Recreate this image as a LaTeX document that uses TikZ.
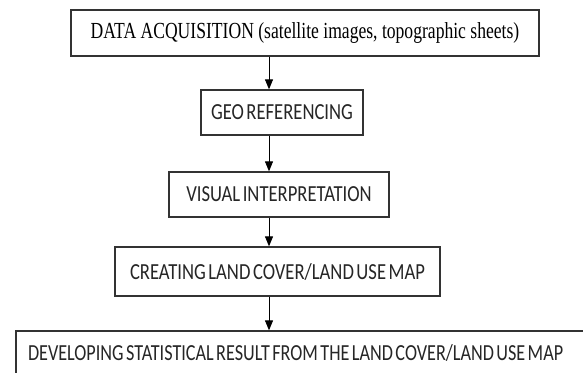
\documentclass[tikz,border=0pt]{standalone}
\usepackage{fontspec}
\setmainfont{Liberation Serif}
\newfontfamily\calib[WordSpace={0.6,0,0}]{Carlito}
\usetikzlibrary{arrows.meta}
\tikzset{
  box/.style={draw=black!80, line width=1.3pt, rectangle, inner sep=0pt, fill=white},
  arr/.style={-{Triangle[length=10pt,width=8pt]}, line width=1pt, black},
  serif/.style={font=\fontsize{23}{26}\selectfont},
  sans/.style={font=\calib\fontsize{23}{26}\selectfont, text=black!85},
}
\newcommand{\sqs}[1]{\scalebox{0.765}[1]{#1}}
\newcommand{\sq}[1]{\scalebox{0.81}[1]{#1}}
\newcommand{\sqb}[1]{\scalebox{0.79}[1]{#1}}
\begin{document}
\begin{tikzpicture}[x=1pt,y=-1pt]
\useasboundingbox (0,0) rectangle (583,372);
\clip (0,0) rectangle (583,372);
\fill[white] (0,0) rectangle (583,372);
\coordinate (ax) at (269,0);
\node[box, serif, minimum width=468pt, minimum height=46pt] (b1) at (305,33)
  {\sqs{DATA ACQUISITION (satellite images, topographic sheets)}};
\node[box, sans, minimum width=162pt, minimum height=45pt] (b2) at (282,112.5)
  {\sq{GEO REFERENCING}};
\node[box, sans, minimum width=220pt, minimum height=45pt] (b3) at (279,194.5)
  {\sq{VISUAL INTERPRETATION}};
\node[box, sans, minimum width=325pt, minimum height=49pt] (b4) at (277.5,271.5)
  {\sq{CREATING LAND COVER/LAND USE MAP}};
\node[box, sans, minimum width=584pt, minimum height=44pt, inner xsep=12pt] (b5) at (308,353)
  {\makebox[560pt][l]{\sqb{DEVELOPING STATISTICAL RESULT FROM THE LAND COVER/LAND USE MAP}}};
\draw[arr] (b1.south -| ax) -- (b2.north -| ax);
\draw[arr] (b2.south -| ax) -- (b3.north -| ax);
\draw[arr] (b3.south -| ax) -- (b4.north -| ax);
\draw[arr] (b4.south -| ax) -- (b5.north -| ax);
\end{tikzpicture}
\end{document}
